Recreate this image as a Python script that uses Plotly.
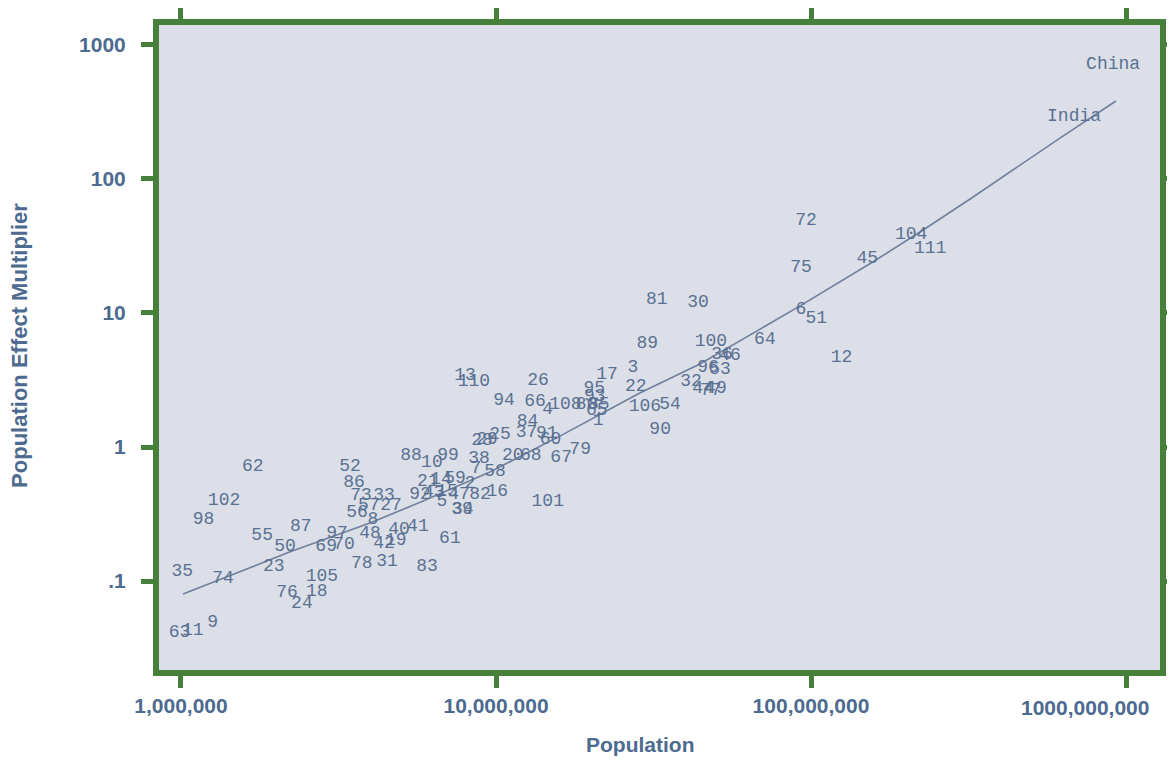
import plotly.graph_objects as go

# ---- data (population, multiplier) ----
labels = ["62", "102", "98", "55", "87", "50", "23", "35", "74", "105", "76", "18", "24", "63", "11", "9",
          "52", "86", "73", "33", "56", "57", "27", "8", "48", "97", "69", "70", "42", "19", "40", "41",
          "78", "31", "83", "61", "88", "10", "99", "13", "110", "26", "94", "66", "4", "108", "95", "93",
          "80", "85", "65", "1", "17", "3", "22", "106", "54", "90", "79", "84", "37", "91", "60", "67",
          "20", "68", "25", "28", "29", "38", "7", "58", "16", "82", "101", "2", "21", "14", "59", "92",
          "43", "15", "47", "5", "39", "34",
          "72", "104", "111", "45", "75", "81", "30", "6", "51", "64", "12", "89", "100", "36", "46", "96",
          "53", "32", "44", "49", "77"]
population = [1.69e6, 1.37e6, 1.18e6, 1.81e6, 2.40e6, 2.14e6, 1.97e6, 1.01e6, 1.36e6, 2.80e6, 2.17e6, 2.70e6,
              2.42e6, 0.99e6, 1.09e6, 1.26e6,
              3.44e6, 3.54e6, 3.73e6, 4.41e6, 3.62e6, 3.95e6, 4.64e6, 4.07e6, 3.98e6, 3.13e6, 2.89e6, 3.29e6,
              4.41e6, 4.81e6, 4.92e6, 5.65e6,
              3.75e6, 4.51e6, 6.04e6, 7.14e6, 5.37e6, 6.26e6, 7.04e6, 7.97e6, 8.51e6, 1.36e7, 1.06e7, 1.33e7,
              1.46e7, 1.66e7, 2.05e7, 2.06e7,
              1.94e7, 2.12e7, 2.09e7, 2.11e7, 2.25e7, 2.72e7, 2.78e7, 2.97e7, 3.57e7, 3.32e7, 1.85e7, 1.26e7,
              1.25e7, 1.45e7, 1.49e7, 1.61e7,
              1.13e7, 1.29e7, 1.03e7, 9.03e6, 9.36e6, 8.83e6, 8.64e6, 9.93e6, 1.01e7, 8.90e6, 1.46e7, 8.27e6,
              6.08e6, 6.69e6, 7.41e6, 5.74e6,
              6.35e6, 6.99e6, 7.63e6, 6.74e6, 7.80e6, 7.85e6,
              9.64e7, 2.08e8, 2.39e8, 1.51e8, 9.29e7, 3.24e7, 4.38e7, 9.29e7, 1.04e8, 7.14e7, 1.25e8, 3.02e7,
              4.81e7, 5.22e7, 5.53e7, 4.71e7,
              5.14e7, 4.16e7, 4.54e7, 4.99e7, 4.81e7]
multiplier = [0.71, 0.402, 0.290, 0.220, 0.253, 0.182, 0.129, 0.117, 0.105, 0.109, 0.0828, 0.0842,
              0.0685, 0.0416, 0.0431, 0.0494,
              0.71, 0.539, 0.438, 0.438, 0.327, 0.369, 0.369, 0.290, 0.228, 0.228, 0.182, 0.186,
              0.192, 0.202, 0.244, 0.253,
              0.134, 0.139, 0.129, 0.206, 0.871, 0.760, 0.871, 3.39, 3.06, 3.16, 2.24, 2.20,
              1.89, 2.06, 2.71, 2.40,
              2.06, 2.06, 1.86, 1.59, 3.45, 3.89, 2.85, 1.99, 2.06, 1.36, 0.966, 1.56,
              1.29, 1.27, 1.13, 0.842,
              0.871, 0.871, 1.23, 1.11, 1.13, 0.814, 0.697, 0.651, 0.469, 0.446, 0.389, 0.530,
              0.557, 0.577, 0.587, 0.446,
              0.454, 0.462, 0.446, 0.389, 0.344, 0.340,
              48.6, 38.2, 30.5, 25.7, 22.0, 12.7, 11.9, 10.7, 9.02, 6.29, 4.69, 5.97,
              6.08, 4.86, 4.78, 3.95,
              3.76, 3.06, 2.71, 2.71, 2.62]

named_labels = ["China", "India"]
named_population = [9.10e8, 6.84e8]
named_multiplier = [709, 295]

fit_population = [1.015e6, 2.22e6, 3.98e6, 5.87e6, 9.57e6, 1.60e7, 2.86e7, 4.44e7, 9.23e7, 1.57e8,
                  2.27e8, 3.20e8, 6.17e8, 9.29e8]
fit_multiplier = [0.080, 0.165, 0.271, 0.395, 0.651, 1.21, 2.53, 4.16, 11.3, 24.0,
                  41.6, 70.9, 202, 382]

x_tickvals = [1e6, 1e7, 1e8, 1e9]
x_ticktext = ["1,000,000", "10,000,000", "100,000,000", ""]
x_last_label = "1000,000,000"
y_tickvals = [0.1, 1, 10, 100, 1000]
y_ticktext = [".1", "1", "10", "100", "1000"]

# ---- styles ----
GREEN = "#46803b"
AXIS_TXT = "#4d6a90"
MARK_TXT = "#5a7193"
LINE_C = "#6f7f9d"
PLOT_BG = "#dcdfe8"
AXIS_FONT = "Liberation Sans, Arial, sans-serif"
MARK_FONT = "Liberation Mono, monospace"

fig = go.Figure()
fig.add_trace(go.Scatter(x=fit_population, y=fit_multiplier, mode="lines",
                         line=dict(color=LINE_C, width=1.6), hoverinfo="skip", showlegend=False))
fig.add_trace(go.Scatter(x=population, y=multiplier, mode="text", text=labels,
                         textfont=dict(family=MARK_FONT, size=18, color=MARK_TXT),
                         showlegend=False))
fig.add_trace(go.Scatter(x=named_population, y=named_multiplier, mode="text", text=named_labels,
                         textfont=dict(family=MARK_FONT, size=18, color=MARK_TXT),
                         showlegend=False))

tick_font = dict(family=AXIS_FONT, size=21, color=AXIS_TXT, weight="bold")
axis_common = dict(
    type="log", showline=True, linecolor=GREEN, linewidth=6, mirror="allticks",
    ticks="outside", ticklen=12, tickwidth=5, tickcolor=GREEN,
    showgrid=False, zeroline=False, automargin=False,
    tickfont=tick_font,
)

fig.update_layout(
    width=1175, height=760,
    margin=dict(l=151, r=23, t=17, b=98),
    paper_bgcolor="white", plot_bgcolor=PLOT_BG,
    xaxis=dict(axis_common, range=[5.9302, 9.1079], tickvals=x_tickvals, ticktext=x_ticktext),
    yaxis=dict(axis_common, range=[-1.664, 3.149], tickvals=y_tickvals, ticktext=y_ticktext,
               ticklabelstandoff=11),
    annotations=[
        dict(text=x_last_label, xref="paper", yref="paper", x=0.925, y=-0.0574,
             showarrow=False, xanchor="center", yanchor="middle", font=tick_font),
        dict(text="Population", xref="paper", yref="paper", x=0.4815, y=-0.116,
             showarrow=False, xanchor="center", yanchor="middle",
             font=dict(family=AXIS_FONT, size=21, color=AXIS_TXT, weight="bold")),
        dict(text="Population Effect Multiplier", xref="paper", yref="paper", x=-0.1389, y=0.504,
             showarrow=False, xanchor="center", yanchor="middle", textangle=-90,
             font=dict(family=AXIS_FONT, size=22, color=AXIS_TXT, weight="bold")),
    ],
)

fig.write_html("out.html")
